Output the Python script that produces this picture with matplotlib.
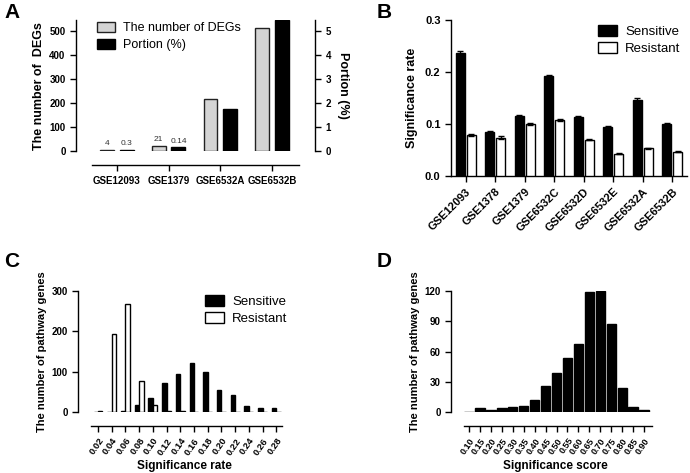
import matplotlib
matplotlib.use("Agg")
import matplotlib.pyplot as plt
from matplotlib.patches import Patch
import numpy as np

plt.rcParams['font.family'] = ['Liberation Sans', 'DejaVu Sans']

# ---------------- Data ----------------
# Panel A
a_cats = ["GSE12093", "GSE1379", "GSE6532A", "GSE6532B"]
a_degs = [4, 21, 218, 511]
a_portion = [0.04, 0.16, 1.74, 5.45]
a_deg_labels = ["4", "21", None, None]
a_por_labels = ["0.3", "0.14", None, None]

# Panel B
b_cats = ["GSE12093", "GSE1378", "GSE1379", "GSE6532C", "GSE6532D", "GSE6532E", "GSE6532A", "GSE6532B"]
b_sens = [0.237, 0.085, 0.116, 0.192, 0.114, 0.094, 0.147, 0.100]
b_sens_err = [0.004, 0.002, 0.002, 0.003, 0.002, 0.002, 0.003, 0.002]
b_res = [0.079, 0.074, 0.100, 0.107, 0.070, 0.043, 0.053, 0.047]
b_res_err = [0.002, 0.002, 0.002, 0.002, 0.001, 0.001, 0.001, 0.001]

# Panel C
c_ticks = ["0.02", "0.04", "0.06", "0.08", "0.10", "0.12", "0.14", "0.16",
           "0.18", "0.20", "0.22", "0.24", "0.26", "0.28"]
c_sens = [0, 0, 2, 17, 34, 71, 95, 121, 99, 55, 43, 15, 9, 10]
c_res = [3, 194, 267, 78, 17, 3, 2, 0, 0, 0, 0, 0, 0, 0]

# Panel D
d_ticks = ["0.10", "0.15", "0.20", "0.25", "0.30", "0.35", "0.40", "0.45", "0.50",
           "0.55", "0.60", "0.65", "0.70", "0.75", "0.80", "0.85", "0.90"]
d_vals = [0, 4, 2, 4, 5, 6, 12, 26, 39, 54, 67, 119, 120, 87, 24, 5, 2]

W, H = 690, 473
fig = plt.figure(figsize=(W / 100, H / 100), dpi=100)


def ax_px(left, top, right, bottom):
    return fig.add_axes([left / W, 1 - bottom / H, (right - left) / W, (bottom - top) / H])


def style(ax, xfs=7, yfs=7):
    for s in ['top', 'right']:
        ax.spines[s].set_visible(False)
    for s in ['left', 'bottom']:
        ax.spines[s].set_linewidth(1.0)
    ax.tick_params(direction='out', length=4, width=1.0)
    ax.tick_params(axis='x', labelsize=xfs)
    ax.tick_params(axis='y', labelsize=yfs)


def bold_ticks(ax):
    for lab in ax.get_xticklabels() + ax.get_yticklabels():
        lab.set_fontweight('bold')


leg_kw = dict(frameon=False, handlelength=1.45, handleheight=0.85, handletextpad=0.6, labelspacing=0.35,
              borderaxespad=0, borderpad=0)

# ---------------- Panel A ----------------
axA = ax_px(76, 20, 315, 151.3)
axA.spines['bottom'].set_position(('outward', 10))
style(axA)
xa = np.arange(len(a_cats))
axA.bar(xa - 0.19, a_degs, width=0.27, color='#d4d4d4', edgecolor='#222222', linewidth=1.0, zorder=3)
axA.set_ylim(0, 545)
axA.set_xlim(-0.79, 3.83)
axA.set_yticks([0, 100, 200, 300, 400, 500])
axA.set_xticks(xa)
axA.set_xticklabels(a_cats)
axA.spines['bottom'].set_bounds(-0.48, 3.52)
axA.spines['left'].set_bounds(0, 545)
bold_ticks(axA)
axA.set_ylabel("The number of  DEGs", fontsize=9, fontweight='bold', labelpad=3)
axA2 = axA.twinx()
axA2.bar(xa + 0.19, a_portion, width=0.27, color='black', edgecolor='black', linewidth=1.0, zorder=3)
axA2.set_ylim(0, 5.45)
axA2.set_yticks([0, 1, 2, 3, 4, 5])
for s in ['top', 'left', 'bottom']:
    axA2.spines[s].set_visible(False)
axA2.spines['right'].set_linewidth(1.0)
axA2.tick_params(direction='out', length=4, width=1.0, labelsize=7)
for lab in axA2.get_yticklabels():
    lab.set_fontweight('bold')
axA2.set_ylabel("Portion (%)", fontsize=9, fontweight='bold', rotation=270, labelpad=13)
for i, t in enumerate(a_deg_labels):
    if t:
        axA.text(xa[i] - 0.19, a_degs[i] + 12, t, ha='center', va='bottom', fontsize=6, color='#333333')
for i, t in enumerate(a_por_labels):
    if t:
        axA2.text(xa[i] + 0.19, a_portion[i] + 0.12, t, ha='center', va='bottom', fontsize=6, color='#333333')
axA.legend(handles=[Patch(facecolor='#d4d4d4', edgecolor='#222222', label='The number of DEGs'),
                    Patch(facecolor='black', edgecolor='black', label='Portion (%)')],
           loc='upper left', bbox_to_anchor=(21 / 239, 1 - 2 / 131), fontsize=9, **leg_kw)

# ---------------- Panel B ----------------
axB = ax_px(451, 20, 687, 176)
style(axB, xfs=8, yfs=8)
xb = np.arange(len(b_cats))
axB.bar(xb - 0.19, b_sens, width=0.3, yerr=b_sens_err, color='black', edgecolor='black',
        linewidth=1.0, error_kw=dict(ecolor='black', capsize=2, elinewidth=1, capthick=1), zorder=3)
axB.bar(xb + 0.19, b_res, width=0.3, yerr=b_res_err, color='white', edgecolor='black',
        linewidth=1.0, error_kw=dict(ecolor='black', capsize=2, elinewidth=1, capthick=1), zorder=3)
axB.set_ylim(0, 0.3)
axB.set_xlim(-0.5, 7.5)
axB.set_yticks([0.0, 0.1, 0.2, 0.3])
axB.set_yticklabels(["0.0", "0.1", "0.2", "0.3"])
axB.set_xticks(xb)
axB.set_xticklabels(b_cats, rotation=45, ha='right', rotation_mode='anchor')
bold_ticks(axB)
axB.set_ylabel("Significance rate", fontsize=9, fontweight='bold', labelpad=5)
axB.legend(handles=[Patch(facecolor='black', edgecolor='black', label='Sensitive'),
                    Patch(facecolor='white', edgecolor='black', label='Resistant')],
           loc='upper left', bbox_to_anchor=(147 / 236, 1 - 5 / 156), fontsize=9.5, **leg_kw)

# ---------------- Panel C ----------------
axC = ax_px(78, 291, 290, 412)
axC.spines['bottom'].set_position(('outward', 10))
style(axC, xfs=6.8)
xc = np.arange(len(c_ticks))
axC.bar(xc, c_sens, width=-0.32, align='edge', color='black', edgecolor='black', linewidth=1.0, zorder=3)
axC.bar(xc, c_res, width=0.32, align='edge', color='white', edgecolor='black', linewidth=1.0, zorder=3)
axC.set_ylim(0, 300)
axC.set_xlim(-1.46, 14)
axC.set_yticks([0, 100, 200, 300])
axC.set_xticks(xc)
axC.set_xticklabels(c_ticks, rotation=55, ha='right', rotation_mode='anchor')
axC.spines['bottom'].set_bounds(-0.5, 13.4)
bold_ticks(axC)
axC.set_ylabel("The number of pathway genes", fontsize=8, fontweight='bold', labelpad=3)
axC.set_xlabel("Significance rate", fontsize=8.5, fontweight='bold', labelpad=2)
axC.legend(handles=[Patch(facecolor='black', edgecolor='black', label='Sensitive'),
                    Patch(facecolor='white', edgecolor='black', label='Resistant')],
           loc='upper left', bbox_to_anchor=(127 / 212, 1 - 4 / 121), fontsize=9.5, **leg_kw)

# ---------------- Panel D ----------------
axD = ax_px(451, 291, 660, 412)
axD.spines['bottom'].set_position(('outward', 10))
style(axD, xfs=6.5, yfs=7)
xd = np.arange(len(d_ticks))
axD.bar(xd, d_vals, width=0.85, color='black', edgecolor='black', linewidth=1.0, zorder=3)
axD.set_ylim(0, 120)
axD.set_xlim(-1.65, 17.46)
axD.set_yticks([0, 30, 60, 90, 120])
axD.set_xticks(xd)
axD.set_xticklabels(d_ticks, rotation=55, ha='right', rotation_mode='anchor')
axD.spines['bottom'].set_bounds(-0.46, 16.7)
bold_ticks(axD)
axD.set_ylabel("The number of pathway genes", fontsize=8, fontweight='bold', labelpad=3)
axD.set_xlabel("Significance score", fontsize=8.5, fontweight='bold', labelpad=3)

# Panel letters
for lbl, x, y in [("A", 4, 13), ("B", 377, 13), ("C", 4, 261), ("D", 377, 261)]:
    fig.text(x / W, 1 - y / H, lbl, fontsize=15, fontweight='bold', ha='left', va='center')

fig.savefig("out.png", dpi=100)
